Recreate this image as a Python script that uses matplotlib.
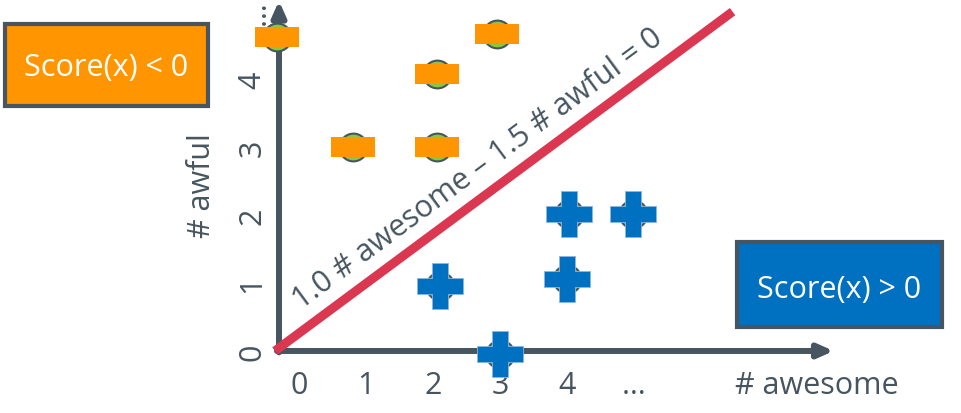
import numpy as np
import matplotlib.pyplot as plt
from matplotlib.patches import Rectangle
from matplotlib.path import Path

plt.rcParams['font.family'] = ['Open Sans', 'DejaVu Sans']

# data (# awesome, # awful)
neg_x = [-0.33, 0.8, 2.06, 2.06, 2.95]
neg_y = [4.62, 3.0, 3.0, 4.07, 4.66]
pos_x = [2.1, 3.0, 4.0, 4.03, 4.98]
pos_y = [0.96, -0.04, 1.06, 2.01, 2.01]
xtick_pos = [0, 1, 2, 3, 4, 5]
xtick_lab = ['0', '1', '2', '3', '4', '…']
ytick_pos = [0, 1, 2, 3, 4]
ytick_lab = ['0', '1', '2', '3', '4']
line_x = [-0.36, 6.47]
line_y = [0.0, 4.99]

dark = '#46555f'
orange = '#ff9500'
blue = '#0070c0'
green = '#8cc63e'
red = '#dc3751'
fs = 22

fig = plt.figure(figsize=(9.62, 4.14), dpi=100)
ax = fig.add_axes([0, 0, 1, 1])
ax.set_xlim(-4.464, 9.894)
ax.set_ylim(-0.912, 5.176)
ax.axis('off')

x0 = -0.3
# axes arrows
ax.annotate('', xy=(x0, 5.15), xytext=(x0, -0.02),
            arrowprops=dict(arrowstyle='-|>,head_length=0.9,head_width=0.4', color=dark, lw=4.3, shrinkA=0, shrinkB=0))
ax.annotate('', xy=(7.98, 0.0), xytext=(x0 - 0.03, 0.0),
            arrowprops=dict(arrowstyle='-|>,head_length=0.9,head_width=0.4', color=dark, lw=4.3, shrinkA=0, shrinkB=0))

# decision boundary
ax.plot(line_x, line_y, color=red, lw=6.5, solid_capstyle='butt', zorder=3)

# ticks
for p, l in zip(xtick_pos, xtick_lab):
    ax.text(p, -0.5, l, ha='center', va='center', fontsize=fs, color=dark)
for p, l in zip(ytick_pos, ytick_lab):
    ax.text(x0 - 0.4, p, l, ha='center', va='center', fontsize=fs, color=dark, rotation=90)
ax.text(x0 - 0.33, 4.98, '…', ha='center', va='center', fontsize=fs, color=dark, rotation=90)

ax.text(7.72, -0.5, '# awesome', ha='center', va='center', fontsize=fs, color=dark)
ax.text(-1.45, 2.44, '# awful', ha='center', va='center', fontsize=fs, color=dark, rotation=90)

ax.text(2.66, 2.68, '1.0 # awesome – 1.5 # awful = 0', ha='center', va='center',
        fontsize=fs, color=dark, rotation=36.5, rotation_mode='anchor')

# points
rect = Path([(-1, -0.43), (1, -0.43), (1, 0.43), (-1, 0.43), (-1, -0.43)],
            [Path.MOVETO, Path.LINETO, Path.LINETO, Path.LINETO, Path.CLOSEPOLY])
ax.plot(neg_x + pos_x, neg_y + pos_y, 'o', ms=20, mfc=green, mec=dark, mew=1.5, zorder=4, clip_on=False)
ax.plot(neg_x, neg_y, marker=rect, ls='none', ms=32, mfc=orange, mec=orange, mew=0, zorder=5)
ax.plot(pos_x, pos_y, 'P', ls='none', ms=33, mfc=blue, mec='#8db4e2', mew=0.6, zorder=5)

# score boxes
fig.patches.append(Rectangle((5 / 962, 1 - 107 / 414), 203 / 962, 82 / 414, transform=fig.transFigure,
                             facecolor=orange, edgecolor=dark, lw=3))
fig.text(106.5 / 962, 1 - 68 / 414, 'Score(x) < 0', ha='center', va='center', fontsize=fs, color='white')
fig.patches.append(Rectangle((737 / 962, 1 - 328 / 414), 205 / 962, 85 / 414, transform=fig.transFigure,
                             facecolor=blue, edgecolor=dark, lw=3))
fig.text(839.5 / 962, 1 - 290 / 414, 'Score(x) > 0', ha='center', va='center', fontsize=fs, color='white')

fig.savefig('out.png', dpi=100)
